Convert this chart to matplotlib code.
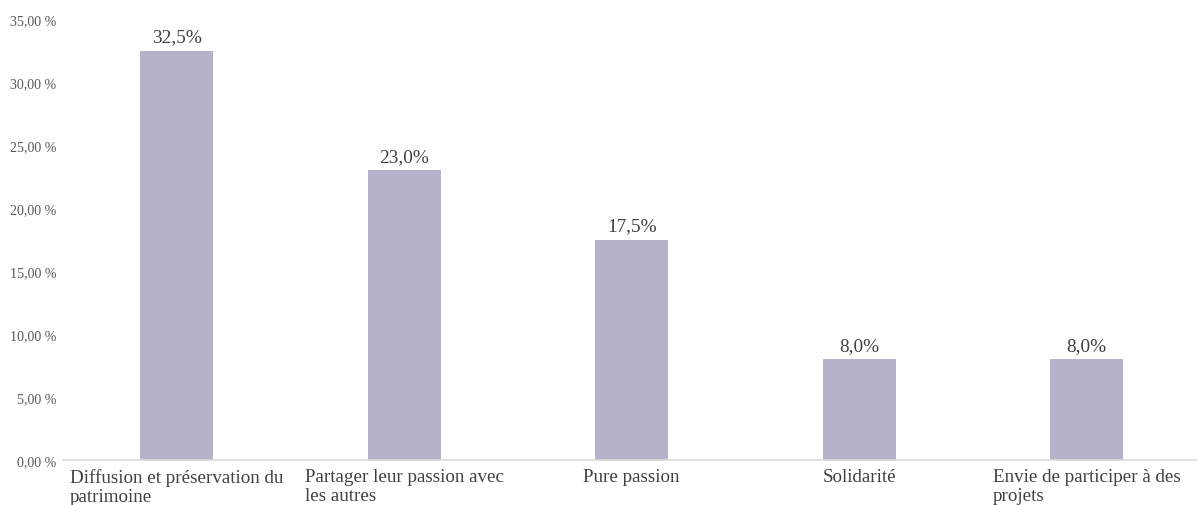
import matplotlib.pyplot as plt
from matplotlib.ticker import FuncFormatter

categories = [
    "Diffusion et préservation du\npatrimoine",
    "Partager leur passion avec\nles autres",
    "Pure passion",
    "Solidarité",
    "Envie de participer à des\nprojets",
]
values = [32.5, 23.0, 17.5, 8.0, 8.0]
value_labels = ["32,5%", "23,0%", "17,5%", "8,0%", "8,0%"]

plt.rcParams['font.family'] = ['Liberation Serif', 'DejaVu Serif']

fig = plt.figure(figsize=(11.97, 5.06), dpi=100)
ax = fig.add_axes([63 / 1197, 45 / 506, (1197 - 63) / 1197, 441 / 506])

x = list(range(len(categories)))
bars = ax.bar(x, values, width=0.32, color='#b5b2cb')

for b, lab in zip(bars, value_labels):
    ax.text(b.get_x() + b.get_width() / 2, b.get_height() + 0.4, lab,
            ha='center', va='bottom', fontsize=13.9, color='#404040', clip_on=False)

ax.set_xlim(-0.5, 4.485)
ax.set_ylim(0, 35)
ax.set_yticks([0, 5, 10, 15, 20, 25, 30, 35])
ax.yaxis.set_major_formatter(FuncFormatter(lambda v, p: f"{v:.2f}".replace('.', ',') + " %"))
ax.tick_params(axis='y', length=0, labelsize=10.1, labelcolor='#595959', pad=5)
ax.tick_params(axis='x', length=0, labelsize=13.7, labelcolor='#404040', pad=6)
ax.set_xticks(x)
ax.set_xticklabels(categories, multialignment='left', va='top', linespacing=1.12)

for s in ['top', 'right', 'left']:
    ax.spines[s].set_visible(False)
ax.spines['bottom'].set_color('#d9d9d9')
ax.spines['bottom'].set_linewidth(1.2)

fig.savefig('out.png', dpi=100)
